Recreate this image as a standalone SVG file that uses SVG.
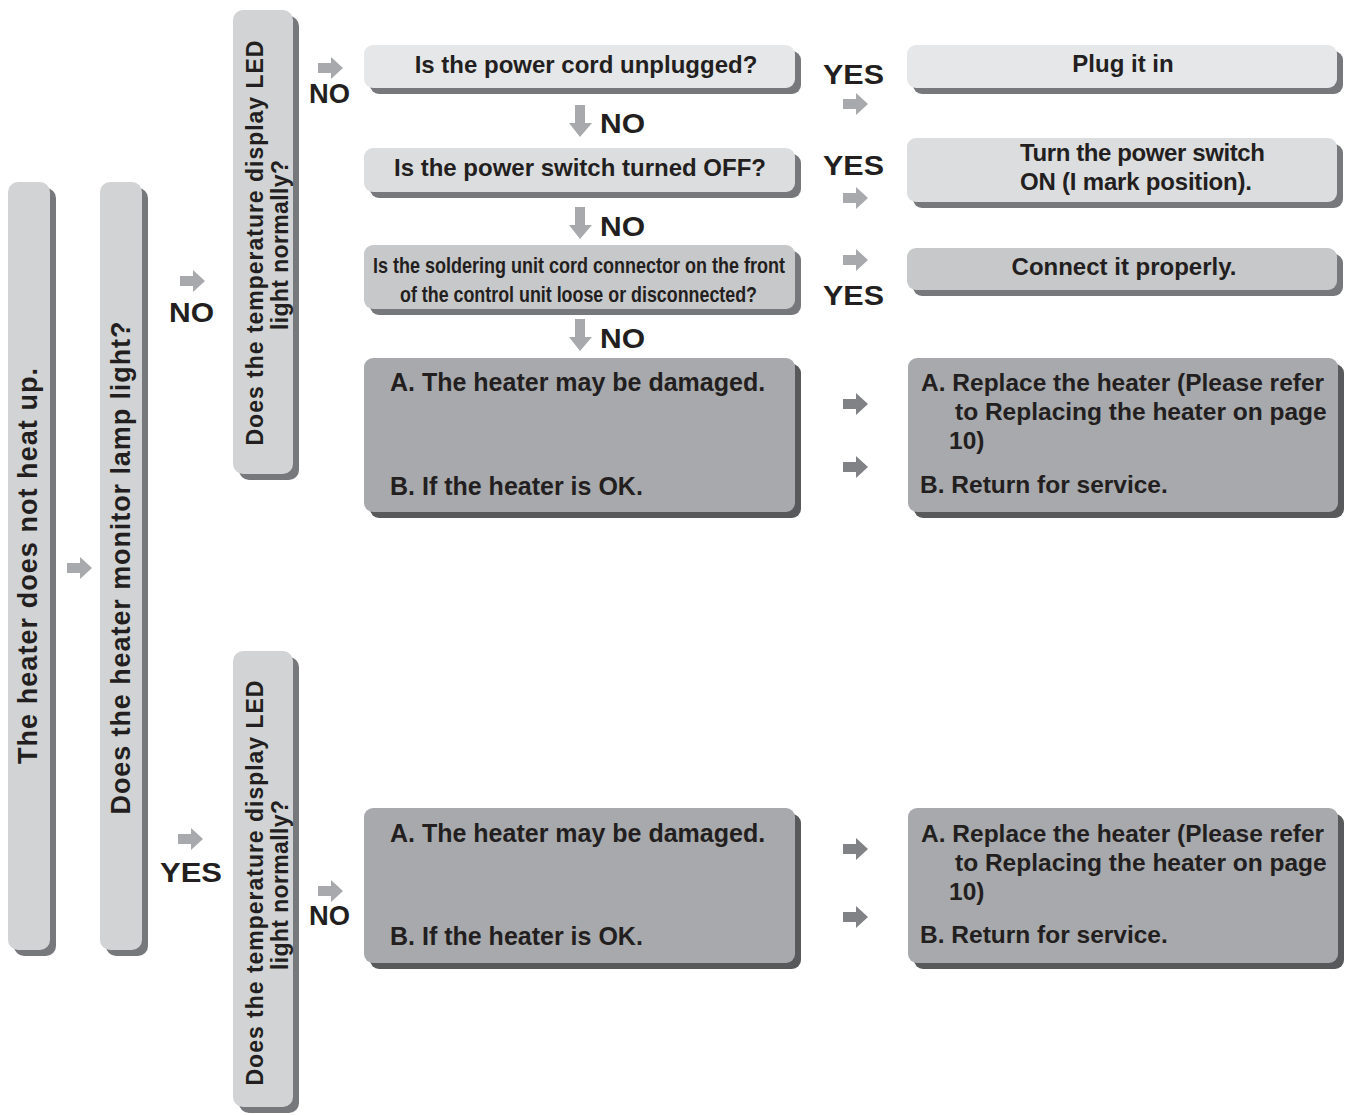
<svg xmlns="http://www.w3.org/2000/svg" xmlns:xlink="http://www.w3.org/1999/xlink" width="1346" height="1115" viewBox="0 0 1346 1115">
<defs>
<style>
text{font-family:"Liberation Sans",Arial,sans-serif;font-weight:bold;fill:#231f20}
.v{font-size:27px}
.v2{font-size:23px}
.q{font-size:24px}
.t{font-size:25px}
.tr{font-size:24.5px}
.lbl{font-size:28px}
.sh1{fill:#77787b}
.sh2{fill:#58595b}
.f0{fill:#d1d3d4}
.f1{fill:#e6e7e8}
.f2{fill:#dcdddf}
.f3{fill:#c7c8ca}
.f4{fill:#a7a9ac}
.al{fill:#a7a9ac}
.ad{fill:#808285}
</style>
<path id="ra" d="M0,6 H13 V0 L25,11 L13,22 V16 H0 Z"/>
<path id="da" d="M6,0 H16 V18 H23 L11,32 L0,18 H6 Z"/>
</defs>
<rect width="1346" height="1115" fill="#fff"/>

<g id="n1">
<rect class="sh1" x="14" y="188" width="42" height="768" rx="10"/>
<rect class="f0" x="8" y="182" width="42" height="768" rx="10"/>
<text class="v" transform="translate(37,566) rotate(-90)" text-anchor="middle" textLength="396" lengthAdjust="spacing">The heater does not heat up.</text>
</g>
<g id="n2">
<rect class="sh1" x="106" y="188" width="42" height="768" rx="10"/>
<rect class="f0" x="100" y="182" width="42" height="768" rx="10"/>
<text class="v" transform="translate(130,568) rotate(-90)" text-anchor="middle" textLength="493" lengthAdjust="spacing">Does the heater monitor lamp light?</text>
</g>
<g id="n3">
<rect class="sh1" x="239" y="16" width="60" height="464" rx="10"/>
<rect class="f0" x="233" y="10" width="60" height="464" rx="10"/>
<text class="v2" transform="translate(263,243) rotate(-90)" text-anchor="middle" textLength="405" lengthAdjust="spacing">Does the temperature  display LED</text>
<text class="v2" transform="translate(288,245) rotate(-90)" text-anchor="middle" textLength="170" lengthAdjust="spacing">light normally?</text>
</g>
<g id="n4">
<rect class="sh1" x="239" y="657" width="60" height="456" rx="10"/>
<rect class="f0" x="233" y="651" width="60" height="456" rx="10"/>
<text class="v2" transform="translate(263,883) rotate(-90)" text-anchor="middle" textLength="405" lengthAdjust="spacing">Does the temperature  display LED</text>
<text class="v2" transform="translate(288,885) rotate(-90)" text-anchor="middle" textLength="170" lengthAdjust="spacing">light normally?</text>
</g>

<g id="q1">
<rect class="sh1" x="370" y="51" width="431" height="43" rx="9"/>
<rect class="f1" x="364" y="45" width="431" height="43" rx="9"/>
<text class="q" x="586" y="73" text-anchor="middle">Is the power cord unplugged?</text>
</g>
<g id="q2">
<rect class="sh1" x="370" y="154" width="431" height="44" rx="9"/>
<rect class="f2" x="364" y="148" width="431" height="44" rx="9"/>
<text class="q" x="580" y="176" text-anchor="middle">Is the power switch turned OFF?</text>
</g>
<g id="q3">
<rect class="sh1" x="370" y="251" width="431" height="64" rx="9"/>
<rect class="f3" x="364" y="245" width="431" height="64" rx="9"/>
<text class="q" x="373" y="273" style="font-size:22px" textLength="412" lengthAdjust="spacingAndGlyphs">Is the soldering unit cord connector on the front</text>
<text class="q" x="400" y="302" style="font-size:22px" textLength="357" lengthAdjust="spacingAndGlyphs">of the control unit loose or disconnected?</text>
</g>
<g id="c1">
<rect class="sh2" x="370" y="364" width="431" height="154" rx="9"/>
<rect class="f4" x="364" y="358" width="431" height="154" rx="9"/>
<text class="t" x="390" y="391">A. The heater may be damaged.</text>
<text class="t" x="390" y="495">B. If the heater is OK.</text>
</g>

<g id="r1">
<rect class="sh1" x="913" y="51" width="430" height="43" rx="9"/>
<rect class="f1" x="907" y="45" width="430" height="43" rx="9"/>
<text class="q" x="1123" y="72" text-anchor="middle">Plug it in</text>
</g>
<g id="r2">
<rect class="sh1" x="913" y="144" width="430" height="64" rx="9"/>
<rect class="f2" x="907" y="138" width="430" height="64" rx="9"/>
<text class="q" x="1020" y="161" textLength="245">Turn the power switch</text>
<text class="q" x="1020" y="190" textLength="232">ON (I mark position).</text>
</g>
<g id="r3">
<rect class="sh1" x="913" y="254" width="430" height="42" rx="9"/>
<rect class="f3" x="907" y="248" width="430" height="42" rx="9"/>
<text class="q" x="1124" y="275" text-anchor="middle">Connect it properly.</text>
</g>
<g id="r4">
<rect class="sh2" x="914" y="364" width="430" height="154" rx="9"/>
<rect class="f4" x="908" y="358" width="430" height="154" rx="9"/>
<text class="tr" x="921" y="391">A. Replace the heater (Please refer</text>
<text class="tr" x="955" y="420">to Replacing the heater on page</text>
<text class="tr" x="949" y="449">10)</text>
<text class="tr" x="920" y="493">B. Return for service.</text>
</g>

<g id="c2">
<rect class="sh2" x="370" y="814" width="431" height="155" rx="9"/>
<rect class="f4" x="364" y="808" width="431" height="155" rx="9"/>
<text class="t" x="390" y="842">A. The heater may be damaged.</text>
<text class="t" x="390" y="945">B. If the heater is OK.</text>
</g>
<g id="r5">
<rect class="sh2" x="914" y="814" width="430" height="155" rx="9"/>
<rect class="f4" x="908" y="808" width="430" height="155" rx="9"/>
<text class="tr" x="921" y="842">A. Replace the heater (Please refer</text>
<text class="tr" x="955" y="871">to Replacing the heater on page</text>
<text class="tr" x="949" y="900">10)</text>
<text class="tr" x="920" y="943">B. Return for service.</text>
</g>

<g id="connectors">
<use xlink:href="#ra" class="al" x="67" y="557"/>
<use xlink:href="#ra" class="al" x="180" y="270"/>
<text class="lbl" x="169" y="322" textLength="45" lengthAdjust="spacingAndGlyphs">NO</text>
<use xlink:href="#ra" class="al" x="178" y="828"/>
<text class="lbl" x="160" y="882" textLength="62" lengthAdjust="spacingAndGlyphs">YES</text>
<use xlink:href="#ra" class="al" x="318" y="57"/>
<text class="lbl" x="309" y="103" textLength="41" lengthAdjust="spacingAndGlyphs">NO</text>
<use xlink:href="#ra" class="al" x="318" y="880"/>
<text class="lbl" x="309" y="925" textLength="41" lengthAdjust="spacingAndGlyphs">NO</text>

<use xlink:href="#da" class="al" x="569" y="105"/>
<text class="lbl" x="600" y="133" textLength="45" lengthAdjust="spacingAndGlyphs">NO</text>
<use xlink:href="#da" class="al" x="569" y="207"/>
<text class="lbl" x="600" y="236" textLength="45" lengthAdjust="spacingAndGlyphs">NO</text>
<use xlink:href="#da" class="al" x="569" y="319"/>
<text class="lbl" x="600" y="348" textLength="45" lengthAdjust="spacingAndGlyphs">NO</text>

<text class="lbl" x="823" y="84" textLength="61" lengthAdjust="spacingAndGlyphs">YES</text>
<use xlink:href="#ra" class="al" x="843" y="93"/>
<text class="lbl" x="823" y="175" textLength="61" lengthAdjust="spacingAndGlyphs">YES</text>
<use xlink:href="#ra" class="al" x="843" y="187"/>
<use xlink:href="#ra" class="al" x="843" y="249"/>
<text class="lbl" x="823" y="305" textLength="61" lengthAdjust="spacingAndGlyphs">YES</text>

<use xlink:href="#ra" class="ad" x="843" y="393"/>
<use xlink:href="#ra" class="ad" x="843" y="456"/>
<use xlink:href="#ra" class="ad" x="843" y="838"/>
<use xlink:href="#ra" class="ad" x="843" y="906"/>
</g>
</svg>
